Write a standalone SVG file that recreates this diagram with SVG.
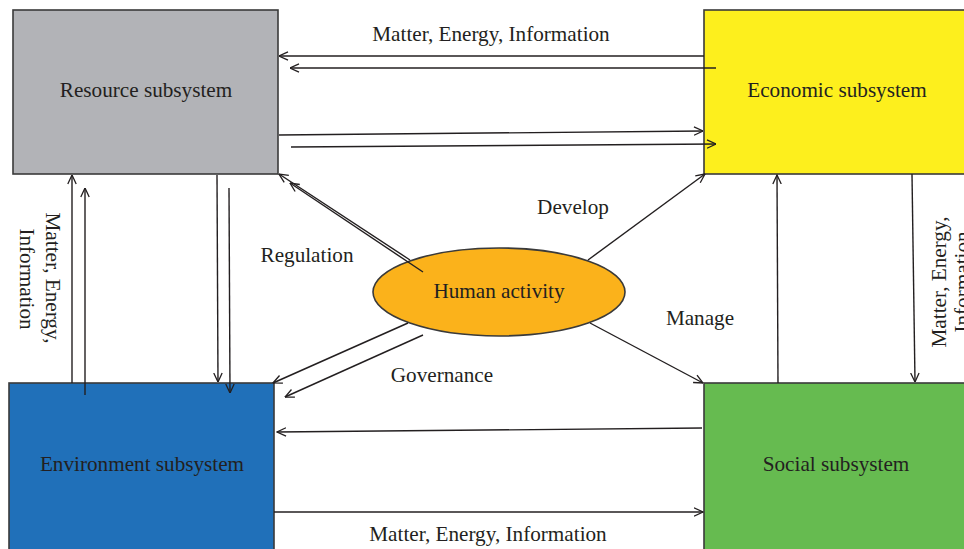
<svg xmlns="http://www.w3.org/2000/svg" width="964" height="549" viewBox="0 0 964 549">
<defs>
<marker id="ah" viewBox="0 0 10 10" refX="9.5" refY="5" markerWidth="10" markerHeight="10" orient="auto" markerUnits="userSpaceOnUse">
<path d="M0.5,0.8 L9.5,5 L0.5,9.2" fill="none" stroke="#231f20" stroke-width="1.3"/>
</marker>
</defs>
<style>
.box{stroke:#3a3a3a;stroke-width:1.6}
.t{font-family:"Liberation Serif","DejaVu Serif",serif;font-size:21.2px;fill:#231f20;text-anchor:middle}
.c{fill:none;stroke:#231f20;stroke-width:1.4;marker-end:url(#ah)}
</style>
<rect width="964" height="549" fill="#ffffff"/>
<g id="resource">
<rect class="box" x="13" y="10" width="265" height="164" fill="#b2b3b7"/>
<text class="t" x="146" y="97">Resource subsystem</text>
</g>
<g id="economic">
<rect class="box" x="704" y="10" width="270" height="164" fill="#fdef1d"/>
<text class="t" x="837" y="97">Economic subsystem</text>
</g>
<g id="environment">
<rect class="box" x="9" y="383" width="265" height="170" fill="#2070b9"/>
<text class="t" x="142" y="471">Environment subsystem</text>
</g>
<g id="social">
<rect class="box" x="704" y="383" width="270" height="170" fill="#66bb50"/>
<text class="t" x="836" y="471">Social subsystem</text>
</g>
<g id="human">
<ellipse class="box" cx="499" cy="292" rx="126" ry="44" fill="#fbb21b"/>
<text class="t" x="499" y="298">Human activity</text>
</g>
<g id="connectors">
<path class="c" d="M704,56 L279,56"/>
<path class="c" d="M716,68 L290,68"/>
<path class="c" d="M279,135 L703,131"/>
<path class="c" d="M291,147 L716,144"/>
<path class="c" d="M72,383 L72,175"/>
<path class="c" d="M85,395 L85,188"/>
<path class="c" d="M217,175 L218,382"/>
<path class="c" d="M229,188 L230,393"/>
<path class="c" d="M778,383 L777,175"/>
<path class="c" d="M912,174 L915,382"/>
<path class="c" d="M702,428 L277,432"/>
<path class="c" d="M274,512 L703,512"/>
<path class="c" d="M410,260 L279,174"/>
<path class="c" d="M423,272 L290,183"/>
<path class="c" d="M588,260 L705,174"/>
<path class="c" d="M590,323 L703,383"/>
<path class="c" d="M408,323 L273,383"/>
<path class="c" d="M423,335 L285,397"/>
</g>
<g id="labels">
<text class="t" x="491" y="41">Matter, Energy, Information</text>
<text class="t" x="488" y="541">Matter, Energy, Information</text>
<text class="t" x="307" y="262">Regulation</text>
<text class="t" x="573" y="214">Develop</text>
<text class="t" x="700" y="325">Manage</text>
<text class="t" x="442" y="382">Governance</text>
<text class="t" transform="translate(46,278) rotate(90)">Matter, Energy,</text>
<text class="t" transform="translate(20,279) rotate(90)">Information</text>
<text class="t" transform="translate(946,282) rotate(-90)">Matter, Energy,</text>
<text class="t" transform="translate(969,282) rotate(-90)">Information</text>
</g>
</svg>
